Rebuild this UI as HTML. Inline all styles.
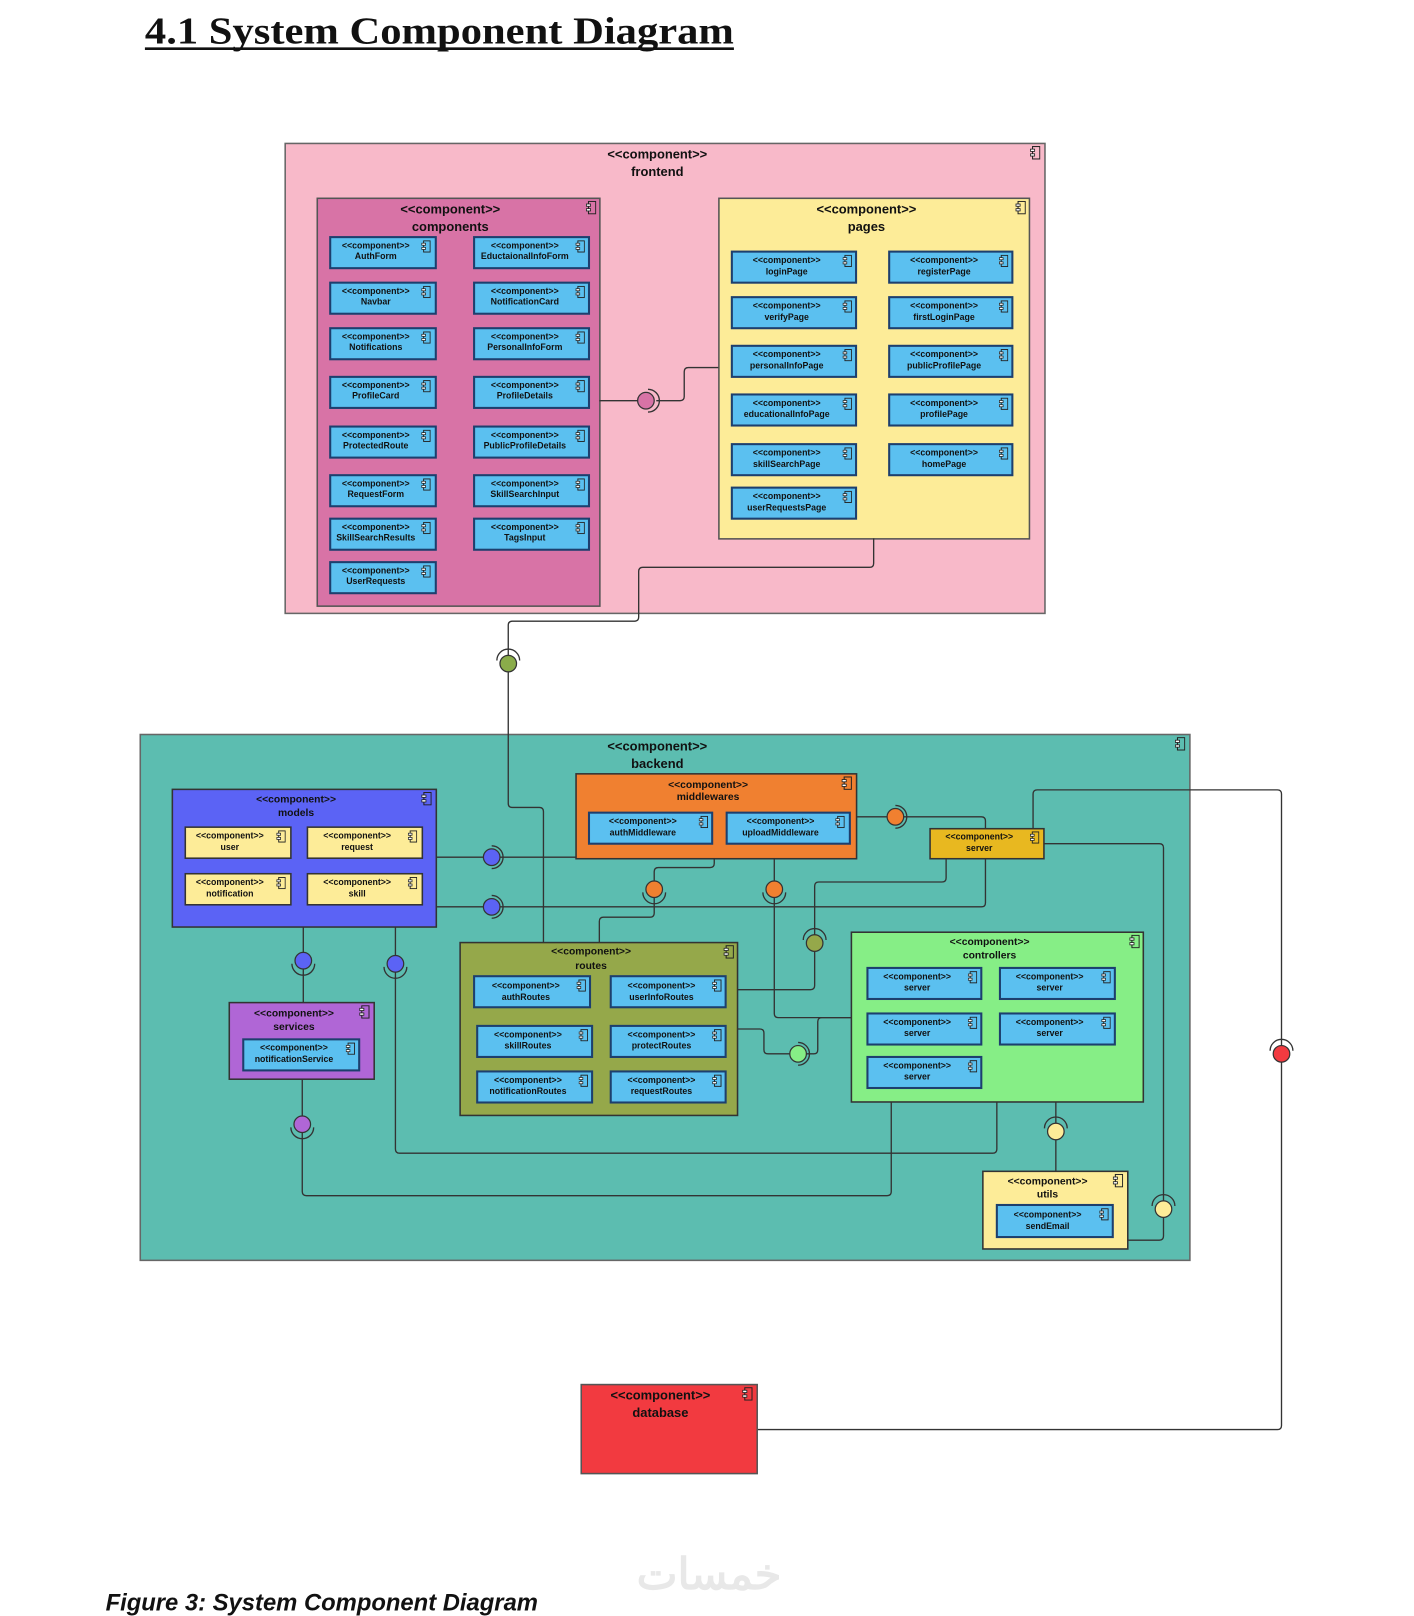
<!DOCTYPE html>
<html><head><meta charset="utf-8"><style>
html,body{margin:0;padding:0;background:#fff;width:1414px;height:1616px;overflow:hidden}
svg{display:block}
.s{font-family:"Liberation Sans",sans-serif;font-weight:bold;fill:#111;text-anchor:middle}
.c{font-size:8.5px}
.t{font-size:12.5px}
.m{font-size:10px}
.ch{stroke:#1d3f6e;stroke-width:2}
.ln{fill:none;stroke:#333;stroke-width:1.3}
</style></head><body>
<svg width="1414" height="1616" viewBox="0 0 1366 1561" xmlns="http://www.w3.org/2000/svg">
<defs>
<symbol id="ic" viewBox="0 0 10 13"><rect x="2.5" y="0.5" width="7" height="12" fill="none" stroke="#222" stroke-width="1"/><rect x="0.5" y="3" width="4" height="2.2" fill="#fff" stroke="#222" stroke-width="0.8"/><rect x="0.5" y="7.5" width="4" height="2.2" fill="#fff" stroke="#222" stroke-width="0.8"/></symbol>
</defs>
<text x="140" y="42" textLength="569" lengthAdjust="spacingAndGlyphs" style="font-family:'Liberation Serif',serif;font-weight:bold;font-size:37px" fill="#111">4.1 System Component Diagram</text>
<line x1="140" y1="47" x2="709" y2="47" stroke="#111" stroke-width="2.5"/>

<!-- frontend -->
<rect x="275.5" y="138.5" width="734" height="454" fill="#f8b9c9" stroke="#666" stroke-width="1.5"/>
<use href="#ic" x="995" y="141" width="10" height="13"/>
<text class="s t" x="635" y="153">&lt;&lt;component&gt;&gt;</text><text class="s t" x="635" y="170">frontend</text>

<rect x="306.5" y="191.5" width="273" height="394" fill="#d873a6" stroke="#555" stroke-width="1.5"/>
<use href="#ic" x="566" y="194" width="10" height="13"/>
<text class="s t" x="435" y="206">&lt;&lt;component&gt;&gt;</text><text class="s t" x="435" y="223">components</text>

<g fill="#5bc0f0" class="ch">
<rect x="319" y="229" width="102" height="30"/><rect x="319" y="273" width="102" height="30"/><rect x="319" y="317" width="102" height="30"/><rect x="319" y="364" width="102" height="30"/><rect x="319" y="412" width="102" height="30"/><rect x="319" y="459" width="102" height="30"/><rect x="319" y="501" width="102" height="30"/><rect x="319" y="543" width="102" height="30"/>
<rect x="458" y="229" width="111" height="30"/><rect x="458" y="273" width="111" height="30"/><rect x="458" y="317" width="111" height="30"/><rect x="458" y="364" width="111" height="30"/><rect x="458" y="412" width="111" height="30"/><rect x="458" y="459" width="111" height="30"/><rect x="458" y="501" width="111" height="30"/>
</g>
<g>
<use href="#ic" x="407" y="232" width="9" height="12"/><use href="#ic" x="407" y="276" width="9" height="12"/><use href="#ic" x="407" y="320" width="9" height="12"/><use href="#ic" x="407" y="367" width="9" height="12"/><use href="#ic" x="407" y="415" width="9" height="12"/><use href="#ic" x="407" y="462" width="9" height="12"/><use href="#ic" x="407" y="504" width="9" height="12"/><use href="#ic" x="407" y="546" width="9" height="12"/>
<use href="#ic" x="556" y="232" width="9" height="12"/><use href="#ic" x="556" y="276" width="9" height="12"/><use href="#ic" x="556" y="320" width="9" height="12"/><use href="#ic" x="556" y="367" width="9" height="12"/><use href="#ic" x="556" y="415" width="9" height="12"/><use href="#ic" x="556" y="462" width="9" height="12"/><use href="#ic" x="556" y="504" width="9" height="12"/>
</g>
<g class="s c">
<text x="363" y="240">&lt;&lt;component&gt;&gt;</text><text x="363" y="250">AuthForm</text>
<text x="363" y="284">&lt;&lt;component&gt;&gt;</text><text x="363" y="294">Navbar</text>
<text x="363" y="328">&lt;&lt;component&gt;&gt;</text><text x="363" y="338">Notifications</text>
<text x="363" y="375">&lt;&lt;component&gt;&gt;</text><text x="363" y="385">ProfileCard</text>
<text x="363" y="423">&lt;&lt;component&gt;&gt;</text><text x="363" y="433">ProtectedRoute</text>
<text x="363" y="470">&lt;&lt;component&gt;&gt;</text><text x="363" y="480">RequestForm</text>
<text x="363" y="512">&lt;&lt;component&gt;&gt;</text><text x="363" y="522">SkillSearchResults</text>
<text x="363" y="554">&lt;&lt;component&gt;&gt;</text><text x="363" y="564">UserRequests</text>
<text x="507" y="240">&lt;&lt;component&gt;&gt;</text><text x="507" y="250">EductaionalInfoForm</text>
<text x="507" y="284">&lt;&lt;component&gt;&gt;</text><text x="507" y="294">NotificationCard</text>
<text x="507" y="328">&lt;&lt;component&gt;&gt;</text><text x="507" y="338">PersonalInfoForm</text>
<text x="507" y="375">&lt;&lt;component&gt;&gt;</text><text x="507" y="385">ProfileDetails</text>
<text x="507" y="423">&lt;&lt;component&gt;&gt;</text><text x="507" y="433">PublicProfileDetails</text>
<text x="507" y="470">&lt;&lt;component&gt;&gt;</text><text x="507" y="480">SkillSearchInput</text>
<text x="507" y="512">&lt;&lt;component&gt;&gt;</text><text x="507" y="522">TagsInput</text>
</g>

<rect x="694.5" y="191.5" width="300" height="329" fill="#fdec98" stroke="#555" stroke-width="1.5"/>
<g fill="#5bc0f0" class="ch">
<rect x="707" y="243" width="120" height="30"/><rect x="707" y="287" width="120" height="30"/><rect x="707" y="334" width="120" height="30"/><rect x="707" y="381" width="120" height="30"/><rect x="707" y="429" width="120" height="30"/><rect x="707" y="471" width="120" height="30"/>
<rect x="859" y="243" width="119" height="30"/><rect x="859" y="287" width="119" height="30"/><rect x="859" y="334" width="119" height="30"/><rect x="859" y="381" width="119" height="30"/><rect x="859" y="429" width="119" height="30"/>
</g>
<g>
<use href="#ic" x="814" y="246" width="9" height="12"/><use href="#ic" x="814" y="290" width="9" height="12"/><use href="#ic" x="814" y="337" width="9" height="12"/><use href="#ic" x="814" y="384" width="9" height="12"/><use href="#ic" x="814" y="432" width="9" height="12"/><use href="#ic" x="814" y="474" width="9" height="12"/>
<use href="#ic" x="965" y="246" width="9" height="12"/><use href="#ic" x="965" y="290" width="9" height="12"/><use href="#ic" x="965" y="337" width="9" height="12"/><use href="#ic" x="965" y="384" width="9" height="12"/><use href="#ic" x="965" y="432" width="9" height="12"/>
<use href="#ic" x="981" y="194" width="10" height="13"/>
</g>
<g class="s c">
<text x="760" y="254">&lt;&lt;component&gt;&gt;</text><text x="760" y="265">loginPage</text>
<text x="760" y="298">&lt;&lt;component&gt;&gt;</text><text x="760" y="309">verifyPage</text>
<text x="760" y="345">&lt;&lt;component&gt;&gt;</text><text x="760" y="356">personalInfoPage</text>
<text x="760" y="392">&lt;&lt;component&gt;&gt;</text><text x="760" y="403">educationalInfoPage</text>
<text x="760" y="440">&lt;&lt;component&gt;&gt;</text><text x="760" y="451">skillSearchPage</text>
<text x="760" y="482">&lt;&lt;component&gt;&gt;</text><text x="760" y="493">userRequestsPage</text>
<text x="912" y="254">&lt;&lt;component&gt;&gt;</text><text x="912" y="265">registerPage</text>
<text x="912" y="298">&lt;&lt;component&gt;&gt;</text><text x="912" y="309">firstLoginPage</text>
<text x="912" y="345">&lt;&lt;component&gt;&gt;</text><text x="912" y="356">publicProfilePage</text>
<text x="912" y="392">&lt;&lt;component&gt;&gt;</text><text x="912" y="403">profilePage</text>
<text x="912" y="440">&lt;&lt;component&gt;&gt;</text><text x="912" y="451">homePage</text>
</g>
<text class="s t" x="837" y="206">&lt;&lt;component&gt;&gt;</text><text class="s t" x="837" y="223">pages</text>

<!-- frontend connectors -->
<path class="ln" d="M579 387H616 M634 387H657Q661 387 661 383V359Q661 355 665 355H694"/>
<circle cx="624" cy="387" r="8" fill="#d873a6" stroke="#333" stroke-width="1.2"/>
<path class="ln" d="M626 376A11 11 0 0 1 626 398"/>

<!-- backend -->
<rect x="135.5" y="709.5" width="1014" height="508" fill="#5cbdb0" stroke="#666" stroke-width="1.5"/>
<use href="#ic" x="1135" y="712" width="10" height="13"/>
<text class="s t" x="635" y="725">&lt;&lt;component&gt;&gt;</text><text class="s t" x="635" y="742">backend</text>

<path class="ln" d="M844 520V544Q844 548 840 548H621Q617 548 617 552V596Q617 600 613 600H495Q491 600 491 604V633 M491 649V776Q491 780 495 780H521Q525 780 525 784V910"/>
<circle cx="491" cy="641" r="8" fill="#8aac4a" stroke="#333" stroke-width="1.2"/>
<path class="ln" d="M480 638A11 11 0 0 1 502 638"/>

<!-- backend connectors (under boxes) -->
<g class="ln">
<path d="M421 828H467 M483 828H556"/>
<path d="M421 876H467 M483 876H948Q952 876 952 872V829"/>
<path d="M827 789H857 M873 789H948Q952 789 952 793V800"/>
<path d="M690 829V834Q690 838 686 838H636Q632 838 632 842V851 M632 867V882Q632 886 628 886H583Q579 886 579 890V910"/>
<path d="M748 829V851 M748 867V979Q748 983 752 983H822"/>
<path d="M914 829V848Q914 852 910 852H791Q787 852 787 856V903 M787 919V952Q787 956 783 956H712"/>
<path d="M712 994H734Q738 994 738 998V1014Q738 1018 742 1018H763 M779 1018H786Q790 1018 790 1014V987Q790 983 794 983H822"/>
<path d="M293 895V920 M293 936V968"/>
<path d="M382 895V923 M382 939V1110Q382 1114 386 1114H959Q963 1114 963 1110V1064"/>
<path d="M292 1042V1078 M292 1094V1151Q292 1155 296 1155H857Q861 1155 861 1151V1064"/>
<path d="M1020 1064V1085 M1020 1101V1131"/>
<path d="M1008 815H1120Q1124 815 1124 819V1160 M1124 1176V1194Q1124 1198 1120 1198H1089"/>
<path d="M998 800V767Q998 763 1002 763H1234Q1238 763 1238 767V1010 M1238 1026V1377Q1238 1381 1234 1381H731"/>
</g>
<g fill="none" stroke="#333" stroke-width="1.3">
<path d="M475 817A11 11 0 0 1 475 839"/><path d="M475 865A11 11 0 0 1 475 887"/>
<path d="M865 778A11 11 0 0 1 865 800"/><path d="M621 862A11 11 0 0 0 643 862"/>
<path d="M737 862A11 11 0 0 0 759 862"/><path d="M776 908A11 11 0 0 1 798 908"/>
<path d="M771 1007A11 11 0 0 1 771 1029"/><path d="M282 931A11 11 0 0 0 304 931"/>
<path d="M371 934A11 11 0 0 0 393 934"/><path d="M281 1089A11 11 0 0 0 303 1089"/>
<path d="M1009 1090A11 11 0 0 1 1031 1090"/><path d="M1113 1165A11 11 0 0 1 1135 1165"/>
<path d="M1227 1015A11 11 0 0 1 1249 1015"/>
</g>
<g stroke="#333" stroke-width="1.2">
<circle cx="475" cy="828" r="8" fill="#5b63f5"/><circle cx="475" cy="876" r="8" fill="#5b63f5"/>
<circle cx="865" cy="789" r="8" fill="#f08030"/><circle cx="632" cy="859" r="8" fill="#f08030"/>
<circle cx="748" cy="859" r="8" fill="#f08030"/><circle cx="787" cy="911" r="8" fill="#95a84a"/>
<circle cx="771" cy="1018" r="8" fill="#86ee86"/><circle cx="293" cy="928" r="8" fill="#5b63f5"/>
<circle cx="382" cy="931" r="8" fill="#5b63f5"/><circle cx="292" cy="1086" r="8" fill="#b066d6"/>
<circle cx="1020" cy="1093" r="8" fill="#fdec98"/><circle cx="1124" cy="1168" r="8" fill="#fdec98"/>
<circle cx="1238" cy="1018" r="8" fill="#f23a40"/>
</g>

<!-- models -->
<rect x="166.5" y="762.5" width="255" height="133" fill="#5b63f5" stroke="#333" stroke-width="1.5"/>
<use href="#ic" x="407" y="765" width="10" height="13"/>
<text class="s m" x="286" y="775">&lt;&lt;component&gt;&gt;</text><text class="s m" x="286" y="788">models</text>
<g fill="#fdec98" stroke="#333" stroke-width="1.5">
<rect x="179" y="799" width="102" height="30"/><rect x="297" y="799" width="111" height="30"/>
<rect x="179" y="844" width="102" height="30"/><rect x="297" y="844" width="111" height="30"/>
</g>
<!-- middlewares -->
<rect x="556.5" y="747.5" width="271" height="82" fill="#f08030" stroke="#333" stroke-width="1.5"/>
<use href="#ic" x="813" y="750" width="10" height="13"/>
<text class="s m" x="684" y="761">&lt;&lt;component&gt;&gt;</text><text class="s m" x="684" y="773">middlewares</text>
<!-- server -->
<rect x="898.5" y="800.5" width="110" height="29" fill="#e8b820" stroke="#333" stroke-width="1.5"/>
<!-- controllers -->
<rect x="822.5" y="900.5" width="282" height="164" fill="#86ee86" stroke="#333" stroke-width="1.5"/>
<use href="#ic" x="1091" y="903" width="10" height="13"/>
<text class="s m" x="956" y="913">&lt;&lt;component&gt;&gt;</text><text class="s m" x="956" y="926">controllers</text>
<!-- routes -->
<rect x="444.5" y="910.5" width="268" height="167" fill="#95a84a" stroke="#333" stroke-width="1.5"/>
<use href="#ic" x="699" y="913" width="10" height="13"/>
<text class="s m" x="571" y="922">&lt;&lt;component&gt;&gt;</text><text class="s m" x="571" y="936">routes</text>
<!-- services -->
<rect x="221.5" y="968.5" width="140" height="74" fill="#b066d6" stroke="#333" stroke-width="1.5"/>
<use href="#ic" x="347" y="971" width="10" height="13"/>
<text class="s m" x="284" y="982">&lt;&lt;component&gt;&gt;</text><text class="s m" x="284" y="995">services</text>
<!-- utils -->
<rect x="949.5" y="1131.5" width="140" height="75" fill="#fdec98" stroke="#333" stroke-width="1.5"/>
<use href="#ic" x="1075" y="1134" width="10" height="13"/>
<text class="s m" x="1012" y="1144">&lt;&lt;component&gt;&gt;</text><text class="s m" x="1012" y="1157">utils</text>

<g fill="#5bc0f0" class="ch">
<rect x="569" y="785" width="119" height="30"/><rect x="702" y="785" width="119" height="30"/>
<rect x="838" y="935" width="110" height="30"/><rect x="966" y="935" width="111" height="30"/>
<rect x="838" y="979" width="110" height="30"/><rect x="966" y="979" width="111" height="30"/>
<rect x="838" y="1021" width="110" height="30"/>
<rect x="458" y="943" width="112" height="30"/><rect x="590" y="943" width="111" height="30"/>
<rect x="461" y="991" width="111" height="30"/><rect x="590" y="991" width="111" height="30"/>
<rect x="461" y="1035" width="111" height="30"/><rect x="590" y="1035" width="111" height="30"/>
<rect x="235" y="1004" width="112" height="30"/>
<rect x="963" y="1164" width="112" height="31"/>
</g>
<g>
<use href="#ic" x="267" y="802" width="9" height="12"/><use href="#ic" x="394" y="802" width="9" height="12"/>
<use href="#ic" x="267" y="847" width="9" height="12"/><use href="#ic" x="394" y="847" width="9" height="12"/>
<use href="#ic" x="675" y="788" width="9" height="12"/><use href="#ic" x="807" y="788" width="9" height="12"/>
<use href="#ic" x="995" y="803" width="9" height="12"/>
<use href="#ic" x="935" y="938" width="9" height="12"/><use href="#ic" x="1064" y="938" width="9" height="12"/>
<use href="#ic" x="935" y="982" width="9" height="12"/><use href="#ic" x="1064" y="982" width="9" height="12"/>
<use href="#ic" x="935" y="1024" width="9" height="12"/>
<use href="#ic" x="557" y="946" width="9" height="12"/><use href="#ic" x="688" y="946" width="9" height="12"/>
<use href="#ic" x="559" y="994" width="9" height="12"/><use href="#ic" x="688" y="994" width="9" height="12"/>
<use href="#ic" x="559" y="1038" width="9" height="12"/><use href="#ic" x="688" y="1038" width="9" height="12"/>
<use href="#ic" x="334" y="1007" width="9" height="12"/>
<use href="#ic" x="1062" y="1167" width="9" height="12"/>
</g>
<g class="s c">
<text x="222" y="810">&lt;&lt;component&gt;&gt;</text><text x="222" y="821">user</text>
<text x="345" y="810">&lt;&lt;component&gt;&gt;</text><text x="345" y="821">request</text>
<text x="222" y="855">&lt;&lt;component&gt;&gt;</text><text x="222" y="866">notification</text>
<text x="345" y="855">&lt;&lt;component&gt;&gt;</text><text x="345" y="866">skill</text>
<text x="621" y="796">&lt;&lt;component&gt;&gt;</text><text x="621" y="807">authMiddleware</text>
<text x="754" y="796">&lt;&lt;component&gt;&gt;</text><text x="754" y="807">uploadMiddleware</text>
<text x="946" y="811">&lt;&lt;component&gt;&gt;</text><text x="946" y="822">server</text>
<text x="886" y="946">&lt;&lt;component&gt;&gt;</text><text x="886" y="957">server</text>
<text x="1014" y="946">&lt;&lt;component&gt;&gt;</text><text x="1014" y="957">server</text>
<text x="886" y="990">&lt;&lt;component&gt;&gt;</text><text x="886" y="1001">server</text>
<text x="1014" y="990">&lt;&lt;component&gt;&gt;</text><text x="1014" y="1001">server</text>
<text x="886" y="1032">&lt;&lt;component&gt;&gt;</text><text x="886" y="1043">server</text>
<text x="508" y="955">&lt;&lt;component&gt;&gt;</text><text x="508" y="966">authRoutes</text>
<text x="639" y="955">&lt;&lt;component&gt;&gt;</text><text x="639" y="966">userInfoRoutes</text>
<text x="510" y="1002">&lt;&lt;component&gt;&gt;</text><text x="510" y="1013">skillRoutes</text>
<text x="639" y="1002">&lt;&lt;component&gt;&gt;</text><text x="639" y="1013">protectRoutes</text>
<text x="510" y="1046">&lt;&lt;component&gt;&gt;</text><text x="510" y="1057">notificationRoutes</text>
<text x="639" y="1046">&lt;&lt;component&gt;&gt;</text><text x="639" y="1057">requestRoutes</text>
<text x="284" y="1015">&lt;&lt;component&gt;&gt;</text><text x="284" y="1026">notificationService</text>
<text x="1012" y="1176">&lt;&lt;component&gt;&gt;</text><text x="1012" y="1187">sendEmail</text>
</g>

<!-- database -->
<rect x="561.5" y="1337.5" width="170" height="86" fill="#f23a40" stroke="#555" stroke-width="1.5"/>
<use href="#ic" x="717" y="1340" width="10" height="13"/>
<text class="s t" x="638" y="1352">&lt;&lt;component&gt;&gt;</text><text class="s t" x="638" y="1369">database</text>

<text x="685" y="1535" style="font-family:'Liberation Sans','Noto Sans CJK SC',sans-serif;font-size:42px;font-weight:bold;text-anchor:middle" fill="#e8e8e8">خمسات</text>
<text x="102" y="1556" style="font-family:'Liberation Sans',sans-serif;font-weight:bold;font-style:italic;font-size:23px" fill="#111">Figure 3: System Component Diagram</text>
</svg>
</body></html>
